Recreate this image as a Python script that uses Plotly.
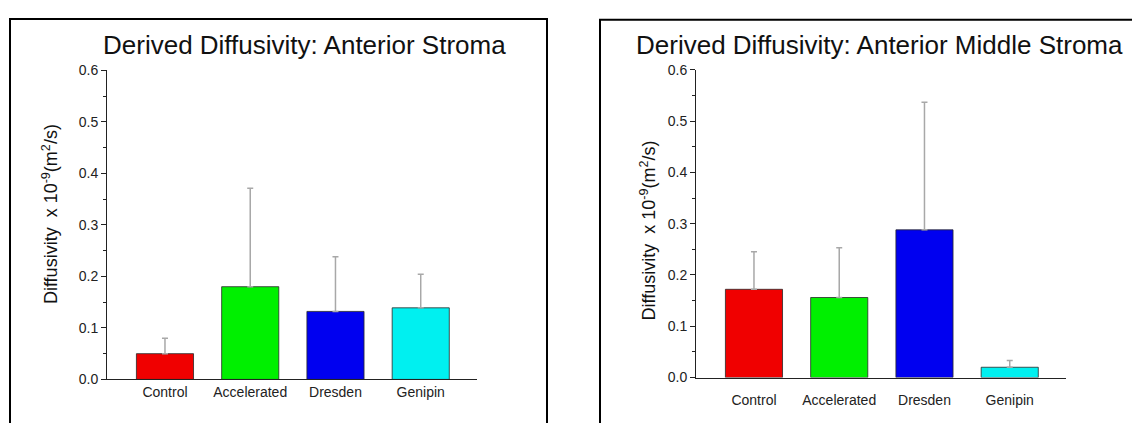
import plotly.graph_objects as go

categories = ["Control", "Accelerated", "Dresden", "Genipin"]
colors = ["#f00000", "#00f000", "#0000f0", "#00f0f0"]

anterior_values = [0.050, 0.180, 0.132, 0.139]
anterior_err_top = [0.080, 0.371, 0.238, 0.204]

middle_values = [0.172, 0.156, 0.288, 0.020]
middle_err_top = [0.245, 0.253, 0.537, 0.033]

title_left = "Derived Diffusivity: Anterior Stroma"
title_right = "Derived Diffusivity: Anterior Middle Stroma"
y_title = "Diffusivity\u00a0\u00a0x 10<sup>-9</sup>(m<sup>2</sup>/s)"
y_ticks = [0.0, 0.1, 0.2, 0.3, 0.4, 0.5, 0.6]

# page body has an 8px margin; size the figure so it fits the window exactly
OFF = 8
W, H = 1140 - OFF, 423 - OFF
FONT = "Liberation Sans, Arial, sans-serif"

fig = go.Figure()

def add_panel(values, tops, xa, ya):
    fig.add_trace(go.Bar(
        x=categories, y=values, width=0.67,
        marker=dict(color=colors, line=dict(color="rgba(40,40,40,0.8)", width=1)),
        error_y=dict(type="data", symmetric=False,
                     array=[t - v for t, v in zip(tops, values)],
                     arrayminus=[0] * len(values),
                     color="#a8a8a8", thickness=1.5, width=3),
        xaxis=xa, yaxis=ya, showlegend=False, hoverinfo="skip"))

add_panel(anterior_values, anterior_err_top, "x", "y")
add_panel(middle_values, middle_err_top, "x2", "y2")

def px_x(p):
    return (p - OFF) / W

def px_y(p):
    return 1 - (p - OFF) / H

xcommon = dict(type="category", range=[-0.68, 3.66], showline=True, linecolor="#222",
               linewidth=1, ticks="", showgrid=False, zeroline=False,
               tickfont=dict(family=FONT, size=14, color="#222"))
ycommon = dict(range=[0, 0.6], tickvals=y_ticks, tickformat=".1f", showline=True,
               linecolor="#222", linewidth=1, ticks="outside", ticklen=5,
               tickcolor="#222", showgrid=False, zeroline=False,
               minor=dict(dtick=0.05, ticks="outside", ticklen=3, tickcolor="#222"),
               tickfont=dict(family=FONT, size=14, color="#222"))

fig.update_layout(
    width=W, height=H,
    margin=dict(l=0, r=0, t=0, b=0),
    paper_bgcolor="white", plot_bgcolor="white",
    xaxis=dict(domain=[px_x(107), px_x(477)], anchor="y", **xcommon),
    yaxis=dict(domain=[px_y(386), px_y(64.5)], anchor="x", **ycommon),
    xaxis2=dict(domain=[px_x(696), px_x(1066)], anchor="y2", ticklabelstandoff=10, **xcommon),
    yaxis2=dict(domain=[px_y(384), px_y(64)], anchor="x2", **ycommon),
)

# outer frames
fig.add_shape(type="rect", xref="paper", yref="paper",
              x0=px_x(10), x1=px_x(547), y0=-0.05, y1=px_y(11),
              line=dict(color="black", width=2))
fig.add_shape(type="rect", xref="paper", yref="paper",
              x0=px_x(600), x1=1.05, y0=-0.05, y1=px_y(12),
              line=dict(color="black", width=2))

# titles
fig.add_annotation(text=title_left, xref="paper", yref="paper",
                   x=px_x(304), y=px_y(38), showarrow=False,
                   xanchor="center", yanchor="middle",
                   font=dict(family=FONT, size=26, color="#111"))
fig.add_annotation(text=title_right, xref="paper", yref="paper",
                   x=px_x(634), y=px_y(38), showarrow=False,
                   xanchor="left", yanchor="middle",
                   font=dict(family=FONT, size=26, color="#111"))

# y axis titles
fig.add_annotation(text=y_title, xref="paper", yref="paper",
                   x=px_x(50), y=px_y(214), showarrow=False, textangle=-90,
                   xanchor="center", yanchor="middle",
                   font=dict(family=FONT, size=18, color="#111"))
fig.add_annotation(text=y_title, xref="paper", yref="paper",
                   x=px_x(648), y=px_y(231), showarrow=False, textangle=-90,
                   xanchor="center", yanchor="middle",
                   font=dict(family=FONT, size=18, color="#111"))

fig.write_html("out.html")
